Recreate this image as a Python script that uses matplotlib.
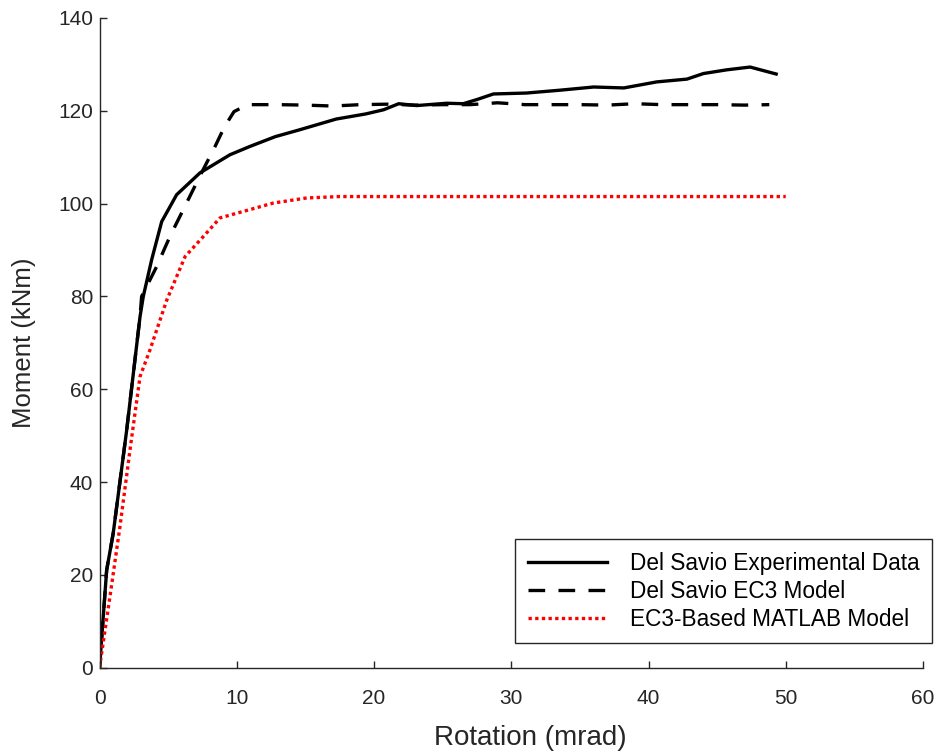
import matplotlib
matplotlib.use("Agg")
import matplotlib.pyplot as plt

plt.rcParams['font.family'] = ['Liberation Sans', 'DejaVu Sans']

# Del Savio experimental data (rotation mrad, moment kNm)
exp_rot = [0, 0.52, 1.0, 1.98, 2.95, 3.19, 3.8, 4.53, 5.62, 7.32, 9.5, 10.96,
           12.8, 14.6, 17.25, 19.4, 20.7, 21.8, 23.1, 25.3, 26.5, 27.5, 28.7,
           31.1, 33.5, 36.0, 38.2, 40.6, 42.8, 44.0, 45.7, 47.4, 49.3]
exp_mom = [0, 21.0, 29.0, 51.2, 75.6, 80.0, 87.9, 96.1, 101.9, 106.6, 110.5, 112.3,
           114.4, 115.9, 118.2, 119.3, 120.2, 121.5, 121.1, 121.6, 121.5, 122.4, 123.6,
           123.8, 124.4, 125.1, 124.9, 126.2, 126.8, 128.0, 128.8, 129.4, 127.9]

# Del Savio EC3 model
ec3_rot = [0, 0.52, 1.0, 1.98, 2.95, 3.07, 4.16, 5.13, 6.34, 7.43, 8.42, 9.1,
           9.8, 10.8, 13.0, 15.0, 17.0, 19.0, 21.0, 23.0, 25.0, 27.0, 29.0,
           31.0, 33.0, 35.0, 37.0, 39.0, 41.0, 43.0, 45.0, 47.0, 48.8]
ec3_mom = [0, 21.0, 29.0, 51.2, 75.6, 80.0, 86.4, 92.9, 100.1, 106.6, 112.3, 116.5,
           119.8, 121.3, 121.3, 121.2, 121.0, 121.3, 121.4, 121.2, 121.3, 121.3, 121.7,
           121.3, 121.3, 121.3, 121.2, 121.5, 121.3, 121.3, 121.3, 121.2, 121.3]

# EC3-based MATLAB model
mat_rot = [0, 0.76, 1.49, 2.22, 2.95, 3.68, 4.9, 6.24, 7.57, 8.78, 10.48,
           12.66, 15.1, 17.5, 20.0, 30.0, 40.0, 50.0]
mat_mom = [0, 15.3, 30.4, 46.9, 62.7, 68.5, 79.2, 88.6, 92.9, 96.9, 98.3,
           100.1, 101.2, 101.5, 101.5, 101.5, 101.5, 101.5]

axis_col = '#262626'

fig = plt.figure(figsize=(9.46, 7.53), dpi=100)
ax = fig.add_axes([0.1052, 0.1133, 0.8705, 0.863])

ax.plot(exp_rot, exp_mom, color='black', lw=2.4, label='Del Savio Experimental Data')
ax.plot(ec3_rot, ec3_mom, color='black', lw=2.4, linestyle=(0, (5, 4)),
        label='Del Savio EC3 Model')
ax.plot(mat_rot, mat_mom, color='#ff0000', lw=2.4, linestyle=(0, (1, 1)),
        dash_capstyle='butt', label='EC3-Based MATLAB Model')

ax.set_xlim(0, 60)
ax.set_ylim(0, 140)
ax.set_xticks(range(0, 61, 10))
ax.set_yticks(range(0, 141, 20))

for s in ['top', 'right']:
    ax.spines[s].set_visible(False)
for s in ['left', 'bottom']:
    ax.spines[s].set_color(axis_col)
    ax.spines[s].set_linewidth(1.0)

ax.tick_params(direction='in', length=5, width=1.0, colors=axis_col, labelsize=15)
ax.tick_params(axis='x', pad=15)
ax.tick_params(axis='y', pad=4.5)

ax.set_xlabel('Rotation (mrad)', fontsize=20, color=axis_col)
ax.xaxis.set_label_coords(0.523, -0.088)
ax.set_ylabel('Moment (kNm)', fontsize=18.5, color=axis_col)
ax.yaxis.set_label_coords(-0.077, 0.5)

leg = ax.legend(loc='lower right', bbox_to_anchor=(0.985, 0.146),
                bbox_transform=fig.transFigure, borderaxespad=0,
                fontsize=16.3, handlelength=3.5, handletextpad=1.0,
                labelspacing=0.22, borderpad=0.55, fancybox=False,
                framealpha=1, edgecolor=axis_col)
leg.get_frame().set_linewidth(1.0)

fig.savefig('out.png', dpi=100)
